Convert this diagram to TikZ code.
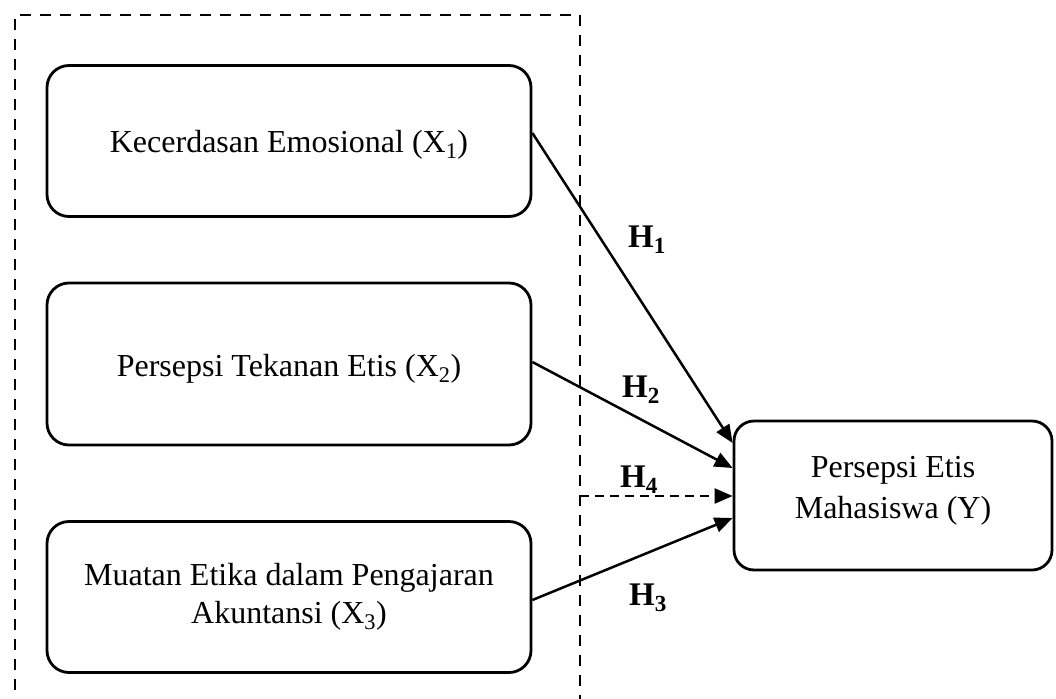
\documentclass[tikz,border=0pt]{standalone}
\usepackage{fontspec}
\setmainfont{Liberation Serif}
\usetikzlibrary{arrows.meta}
\tikzset{
  varbox/.style={draw=black, line width=2.8pt, rounded corners=22pt, align=center,
    font=\fontsize{32}{38}\selectfont, inner sep=0pt},
  hlabel/.style={font=\fontsize{33}{38}\selectfont\bfseries, inner sep=0pt, anchor=base west},
  link/.style={line width=2.5pt, -{Triangle[length=18pt,width=15pt]}},
  dlink/.style={line width=2.5pt, dash pattern=on 9pt off 6pt, -{Triangle[length=18pt,width=15pt]}},
  frame/.style={line width=2.8pt, dash pattern=on 11pt off 9pt}
}
\begin{document}
\begin{tikzpicture}[x=1pt,y=-1pt]
\useasboundingbox (0,0) rectangle (1056,698);
\clip (0,0) rectangle (1056,698);
% dashed frame (bottom edge lies below the picture)
\draw[frame] (15,710) -- (15,15) -- (580,15) -- (580,710);
% boxes
\node[varbox, minimum width=484pt, minimum height=151pt] (x1) at (289,141) {\raisebox{-11pt}[0pt][0pt]{Kecerdasan Emosional (X\textsubscript{1})}};
\node[varbox, minimum width=484pt, minimum height=162pt] (x2) at (289,364) {\raisebox{-12pt}[0pt][0pt]{Persepsi Tekanan Etis (X\textsubscript{2})}};
\node[varbox, minimum width=484pt, minimum height=151pt] (x3) at (289,597) {Muatan Etika dalam Pengajaran\\Akuntansi (X\textsubscript{3})};
\node[varbox, rounded corners=20pt, minimum width=318pt, minimum height=149pt, font=\fontsize{32}{41}\selectfont] (y) at (893,495.5) {Persepsi Etis\\Mahasiswa (Y)\\[-24pt]\mbox{}};
% connector endpoints
\coordinate (s1) at (x1.east |- 0,133);
\coordinate (s2) at (x2.east |- 0,362);
\coordinate (s3) at (x3.east |- 0,600);
\coordinate (s4) at (580,496);
\coordinate (t1) at (y.west |- 0,443);
\coordinate (t2) at (y.west |- 0,468);
\coordinate (t4) at (y.west |- 0,496);
\coordinate (t3) at (y.west |- 0,518);
\draw[link] (s1) -- (t1);
\draw[link] (s2) -- (t2);
\draw[link] (s3) -- (t3);
\draw[dlink] (s4) -- (t4);
% labels
\node[hlabel] (h1) at (628,247) {H\textsubscript{1}};
\node[hlabel] (h2) at (622,397) {H\textsubscript{2}};
\node[hlabel] (h4) at (620,487) {H\textsubscript{4}};
\node[hlabel] (h3) at (629,605) {H\textsubscript{3}};
\end{tikzpicture}
\end{document}
